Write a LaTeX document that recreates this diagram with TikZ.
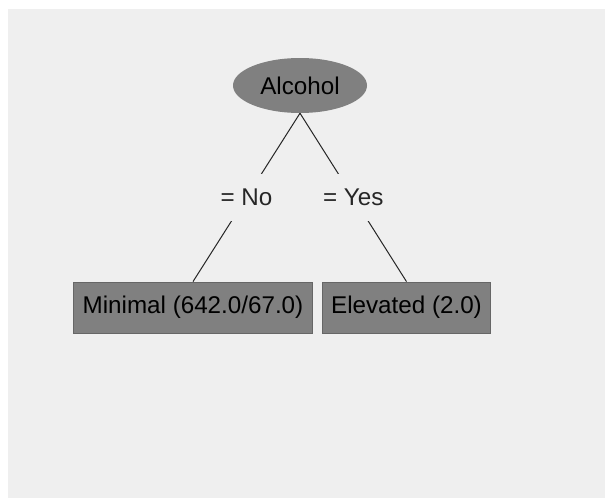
\documentclass[tikz,border=0pt]{standalone}
\usepackage{fontspec}
\setmainfont{Liberation Sans}
\usetikzlibrary{shapes.geometric}
\definecolor{panelbg}{HTML}{EFEFEF}
\definecolor{nodegray}{HTML}{808080}
\begin{document}
\begin{tikzpicture}[x=1pt, y=-1pt,
        font=\fontsize{24.2}{29}\selectfont,
        split/.style={ellipse, fill=nodegray, minimum width=134pt, minimum height=55pt, inner sep=0pt},
        leaf/.style={rectangle, fill=nodegray, draw=black!60, line width=0.8pt, inner xsep=9pt, minimum height=51pt},
        branch/.style={fill=panelbg, inner xsep=1pt, minimum height=47pt}]
        \useasboundingbox (0,0) rectangle (605,498);
        \fill[white] (0,0) rectangle (605,498);
        \fill[panelbg] (8,9) rectangle (605,498);

        \node[split] (alcohol) at (300,85.5) {Alcohol};
        \node[leaf] (minimal) at (193,307.5) {Minimal (642.0/67.0)};
        \node[leaf] (elevated) at (406.5,307.5) {Elevated (2.0)};

        \draw[line width=1pt, black!85] (alcohol.south) -- node[branch] (no) {= No} (minimal.north);
        \draw[line width=1pt, black!85] (alcohol.south) -- node[branch] (yes) {= Yes} (elevated.north);
    \end{tikzpicture}
\end{document}
